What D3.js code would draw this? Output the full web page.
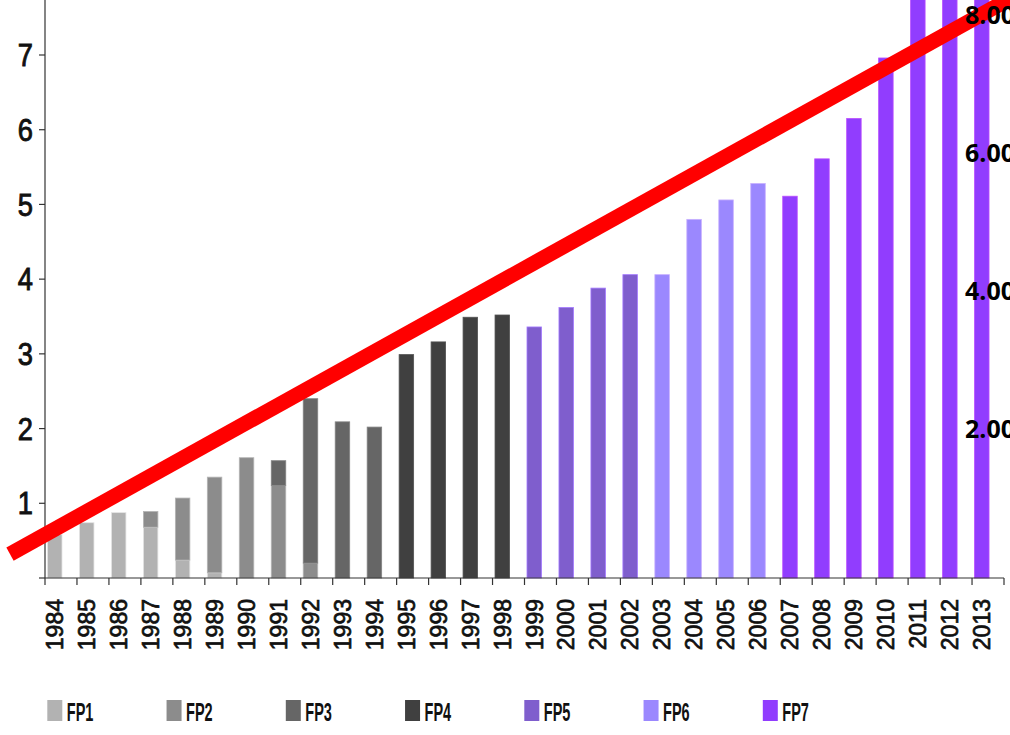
<html>
<head>
<script src="https://d3js.org/d3.v7.min.js"></script>
<style>
  body { margin: 0; background: #fff; }
</style>
</head>
<body>
<div id="container"></div>
<script>
var years = ["1984","1985","1986","1987","1988","1989","1990","1991","1992","1993",
             "1994","1995","1996","1997","1998","1999","2000","2001","2002","2003",
             "2004","2005","2006","2007","2008","2009","2010","2011","2012","2013"];

// budget per framework programme, one value per year
var fp1 = [0.58,0.74,0.875,0.68,0.24,0.07,0,0,0,0, 0,0,0,0,0,0,0,0,0,0, 0,0,0,0,0,0,0,0,0,0];
var fp2 = [0,0,0,0.21,0.83,1.28,1.61,1.24,0.20,0, 0,0,0,0,0,0,0,0,0,0, 0,0,0,0,0,0,0,0,0,0];
var fp3 = [0,0,0,0,0,0,0,0.33,2.20,2.09, 2.02,0,0,0,0,0,0,0,0,0, 0,0,0,0,0,0,0,0,0,0];
var fp4 = [0,0,0,0,0,0,0,0,0,0, 0,2.99,3.16,3.49,3.52,0,0,0,0,0, 0,0,0,0,0,0,0,0,0,0];
var fp5 = [0,0,0,0,0,0,0,0,0,0, 0,0,0,0,0,3.36,3.62,3.88,4.06,0, 0,0,0,0,0,0,0,0,0,0];
var fp6 = [0,0,0,0,0,0,0,0,0,0, 0,0,0,0,0,0,0,0,0,4.06, 4.80,5.06,5.28,0,0,0,0,0,0,0];
var fp7 = [0,0,0,0,0,0,0,0,0,0, 0,0,0,0,0,0,0,0,0,0, 0,0,0,5.11,5.61,6.15,6.96,8.20,8.60,9.00];

var programmes = ["FP1","FP2","FP3","FP4","FP5","FP6","FP7"];
var colours = ["#b2b2b2","#8c8c8c","#666666","#404040","#7f5ecd","#9b88fe","#913dfe"];

var leftTicks = [0,1,2,3,4,5,6,7];
var rightTicks = [2,4,6,8];

// red trend line, drawn over the bars (year, value)
var trend = [{year: 1982.6, value: 0.32}, {year: 2014.2, value: 7.83}];

var width = 1010, height = 735;
var svg = d3.select("#container").append("svg")
            .attr("width", width)
            .attr("height", height);

var x = d3.scaleBand().domain(years).range([45, 1004]).padding(0);
var y = d3.scaleLinear().domain([0, 7]).range([578, 55]);
var yRight = d3.scaleLinear().domain([0, 8]).range([567, 15]);
var barOff = 2.5, barW = 14.5;
var yearX = d3.scaleLinear().domain([1984, 2013])
              .range([x("1984") + barOff + barW / 2, x("2013") + barOff + barW / 2]);

var table = years.map(function(yr, i) {
    return {year: yr, FP1: fp1[i], FP2: fp2[i], FP3: fp3[i], FP4: fp4[i],
            FP5: fp5[i], FP6: fp6[i], FP7: fp7[i]};
});
var stacked = d3.stack().keys(programmes)(table);

var bars = svg.append("g");
stacked.forEach(function(layer, k) {
    bars.selectAll(".b" + k)
        .data(layer.filter(function(d) { return d[1] - d[0] > 0; }))
        .enter()
        .append("rect")
        .attr("x", function(d) { return x(d.data.year) + barOff; })
        .attr("y", function(d) { return y(d[1]); })
        .attr("width", barW)
        .attr("height", function(d) { return y(d[0]) - y(d[1]); })
        .style("fill", colours[k])
        .style("stroke", d3.color(colours[k]).brighter(0.7))
        .style("stroke-width", 0.8);
});

// left axis
var yAxis = svg.append("g").attr("transform", "translate(45,0)");
yAxis.append("line").attr("x1", 0).attr("x2", 0).attr("y1", 0).attr("y2", 578)
     .style("stroke", "#333").style("stroke-width", 1.2);
yAxis.selectAll(".tick").data(leftTicks).enter().append("line")
     .attr("x1", -6).attr("x2", 0)
     .attr("y1", function(d) { return y(d); }).attr("y2", function(d) { return y(d); })
     .style("stroke", "#333").style("stroke-width", 1.2);
yAxis.selectAll(".lab").data(leftTicks.filter(function(d) { return d > 0; })).enter().append("text")
     .attr("transform", function(d) { return "translate(-12," + y(d) + ") scale(0.88,1)"; })
     .attr("dy", "0.36em")
     .attr("text-anchor", "end")
     .style("font-family", "Liberation Sans, Arial, sans-serif")
     .style("font-size", "31px")
     .style("fill", "#111")
     .style("stroke", "#111")
     .style("stroke-width", 0.9)
     .text(function(d) { return d; });

// bottom axis
var xAxis = svg.append("g");
xAxis.append("line").attr("x1", 45).attr("x2", 1004).attr("y1", 578).attr("y2", 578)
     .style("stroke", "#333").style("stroke-width", 1.2);
xAxis.selectAll(".tick").data(years.concat(["end"])).enter().append("line")
     .attr("x1", function(d, i) { return 45 + i * x.bandwidth(); })
     .attr("x2", function(d, i) { return 45 + i * x.bandwidth(); })
     .attr("y1", 578).attr("y2", 585)
     .style("stroke", "#333").style("stroke-width", 1.2);
xAxis.selectAll(".lab").data(years).enter().append("text")
     .attr("transform", function(d) {
         return "translate(" + (x(d) + barOff + barW / 2) + ",599) rotate(-90)";
     })
     .attr("dy", "0.36em")
     .attr("text-anchor", "end")
     .style("font-family", "Liberation Sans, Arial, sans-serif")
     .style("font-size", "23px")
     .style("fill", "#111")
     .style("stroke", "#111")
     .style("stroke-width", 0.7)
     .text(function(d) { return d; });

// red line
var line = d3.line()
             .x(function(d) { return yearX(d.year); })
             .y(function(d) { return y(d.value); });
svg.append("path")
   .datum(trend)
   .attr("d", line)
   .style("fill", "none")
   .style("stroke", "#ff0000")
   .style("stroke-width", 15)
   .style("stroke-linecap", "butt");

// right labels (cut at the right edge, like the original)
svg.selectAll(".rlab").data(rightTicks).enter().append("text")
   .attr("x", 965)
   .attr("y", function(d) { return yRight(d); })
   .attr("dy", "0.36em")
   .style("font-family", "Open Sans, sans-serif")
   .style("font-weight", "bold")
   .style("font-size", "25px")
   .style("fill", "#000")
   .text(function(d) { return d3.format(".2f")(d); });

// legend
var legend = svg.append("g");
var items = legend.selectAll(".item").data(programmes).enter().append("g")
                  .attr("transform", function(d, i) { return "translate(" + (47.3 + i * 119.25) + ",0)"; });
items.append("rect")
     .attr("x", 0).attr("y", 700).attr("width", 15).attr("height", 21)
     .style("fill", function(d, i) { return colours[i]; });
items.append("text")
     .attr("transform", "translate(19.5,720.5) scale(0.58,1)")
     .style("font-family", "Liberation Sans, Arial, sans-serif")
     .style("font-weight", "bold")
     .style("font-size", "25px")
     .style("fill", "#111")
     .text(function(d) { return d; });
</script>
</body>
</html>
